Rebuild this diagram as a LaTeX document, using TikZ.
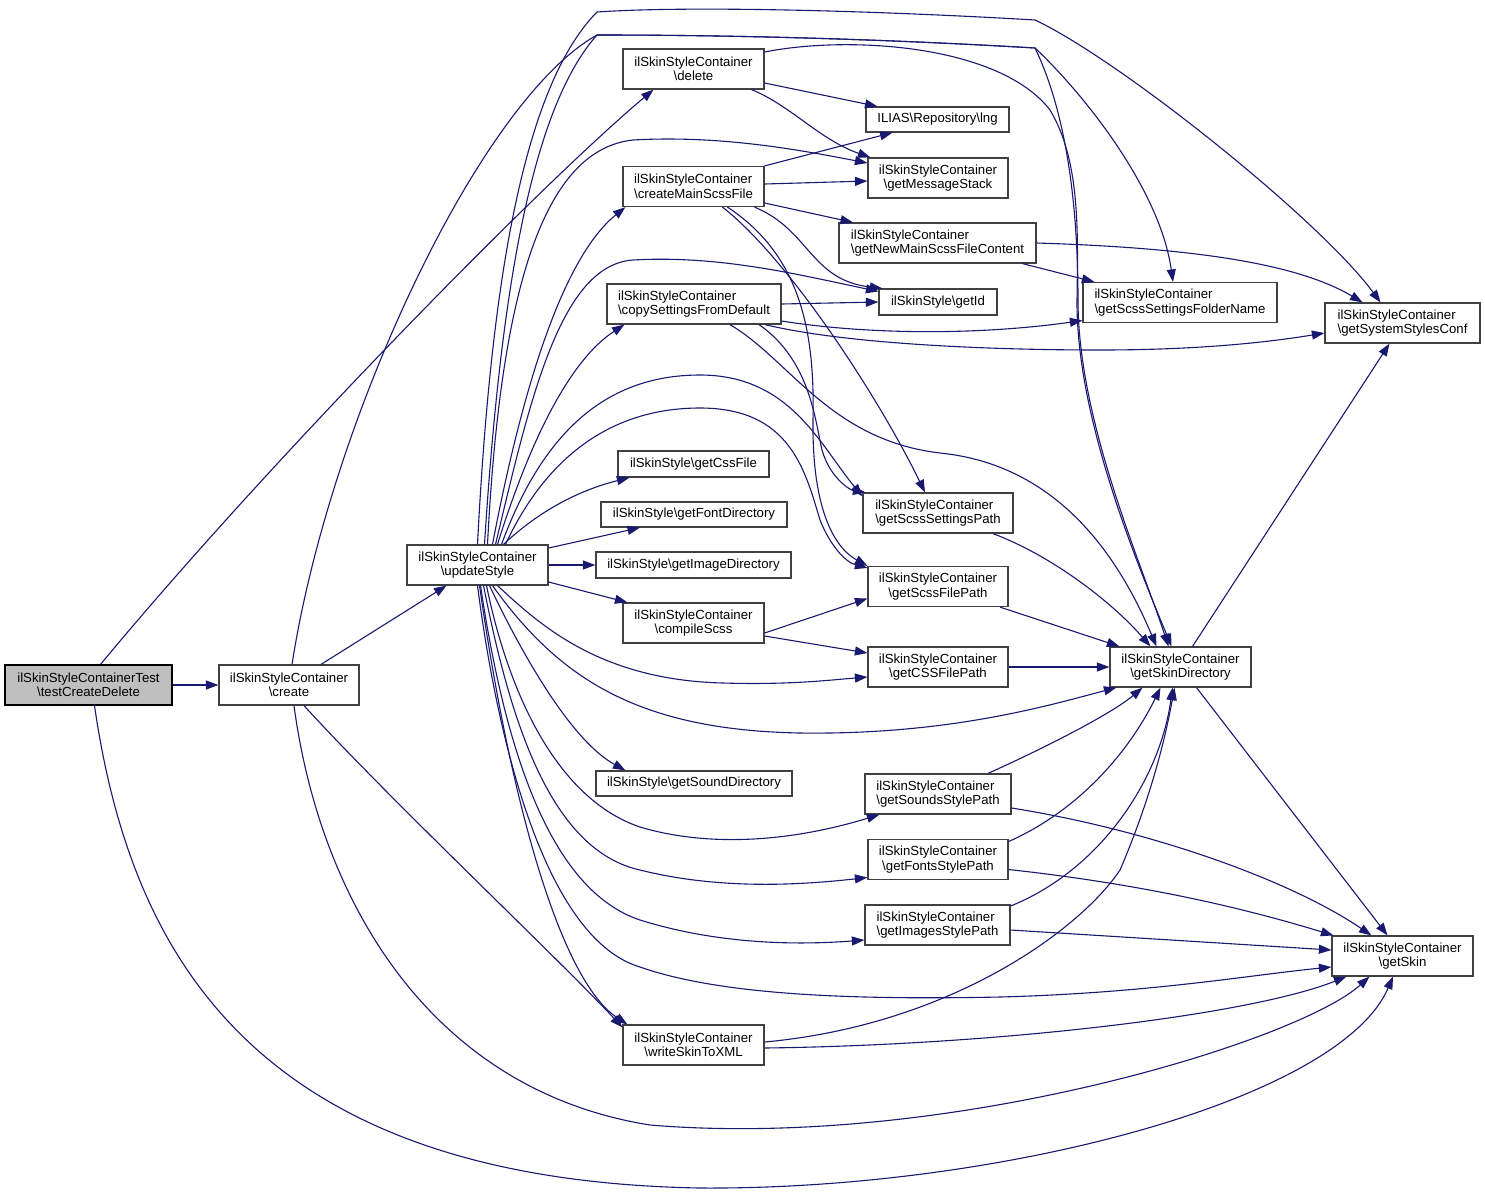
\documentclass[tikz,border=0pt]{standalone}
\usepackage{fontspec}
\setmainfont{Liberation Sans}
\usetikzlibrary{arrows.meta}
\definecolor{edgec}{RGB}{25,25,112}
\definecolor{nodegray}{RGB}{191,191,191}
\definecolor{borderc}{RGB}{64,64,64}
\newcommand{\BSL}{\textbackslash}
\begin{document}
\begin{tikzpicture}[x=1pt,y=-1pt,
  fn/.style={draw=borderc, line width=1.2pt, fill=white, inner sep=0pt, align=center,
    font=\fontsize{13.2}{14.5}\selectfont, minimum height=40},
  fs/.style={fn, minimum height=26},
  conn/.style={draw=edgec, line width=1.1pt, -{Triangle[length=12.5pt,width=9pt]}}]
\useasboundingbox (0,0) rectangle (1485,1195);
\fill[white] (0,0) rectangle (1485,1195);
% nodes
\node[fn, fill=nodegray, draw=black, minimum width=167] (T) at (88.5,685) {ilSkinStyleContainerTest\\\BSL testCreateDelete};
\node[fn, minimum width=140] (C) at (289,685) {ilSkinStyleContainer\\\BSL create};
\node[fn, minimum width=141] (U) at (477.5,565) {ilSkinStyleContainer\\\BSL updateStyle};
\node[fn, minimum width=141] (D) at (693.5,69) {ilSkinStyleContainer\\\BSL delete};
\node[fs, minimum width=143, minimum height=25] (Lng) at (937.5,119.5) {ILIAS\BSL Repository\BSL lng};
\node[fn, minimum width=140] (MS) at (938,178) {ilSkinStyleContainer\\\BSL getMessageStack};
\node[fn, minimum width=141, align=left] (CM) at (693.5,186.5) {ilSkinStyleContainer\\\BSL createMainScssFile};
\node[fn, minimum width=197, align=left] (NM) at (937.5,243) {ilSkinStyleContainer\\\BSL getNewMainScssFileContent};
\node[fs, minimum width=118] (GI) at (938,302) {ilSkinStyle\BSL getId};
\node[fn, minimum width=174, align=left] (CS) at (694,304) {ilSkinStyleContainer\\\BSL copySettingsFromDefault};
\node[fn, minimum width=194, align=left] (SFN) at (1180,302.5) {ilSkinStyleContainer\\\BSL getScssSettingsFolderName};
\node[fn, minimum width=155, align=left] (SSC) at (1402.5,323) {ilSkinStyleContainer\\\BSL getSystemStylesConf};
\node[fs, minimum width=151] (CF) at (693.5,464) {ilSkinStyle\BSL getCssFile};
\node[fs, minimum width=186, minimum height=25] (FD) at (694,514.5) {ilSkinStyle\BSL getFontDirectory};
\node[fs, minimum width=195] (ID) at (693.5,565) {ilSkinStyle\BSL getImageDirectory};
\node[fn, minimum width=141] (CSS) at (693.5,623) {ilSkinStyleContainer\\\BSL compileScss};
\node[fn, minimum width=150, align=left] (SSP) at (938,513) {ilSkinStyleContainer\\\BSL getScssSettingsPath};
\node[fn, minimum width=140] (SFP) at (938,586.5) {ilSkinStyleContainer\\\BSL getScssFilePath};
\node[fn, minimum width=140] (CFP) at (938,667) {ilSkinStyleContainer\\\BSL getCSSFilePath};
\node[fn, minimum width=141] (SD) at (1180.5,667) {ilSkinStyleContainer\\\BSL getSkinDirectory};
\node[fs, minimum width=196, minimum height=25] (SND) at (694,783.5) {ilSkinStyle\BSL getSoundDirectory};
\node[fn, minimum width=146, align=left] (SSTP) at (938,794) {ilSkinStyleContainer\\\BSL getSoundsStylePath};
\node[fn, minimum width=140] (FSP) at (938,859.5) {ilSkinStyleContainer\\\BSL getFontsStylePath};
\node[fn, minimum width=145, align=left] (ISP) at (937.5,925) {ilSkinStyleContainer\\\BSL getImagesStylePath};
\node[fn, minimum width=141] (WX) at (693.5,1045) {ilSkinStyleContainer\\\BSL writeSkinToXML};
\node[fn, minimum width=141] (GS) at (1402.5,956) {ilSkinStyleContainer\\\BSL getSkin};
% edges from testCreateDelete
\draw[conn] (T.east) -- (C.west);
\draw[conn] ([xshift=12]T.north) .. controls (270,460) and (540,185) .. ([xshift=-40]D.south);
\draw[conn] ([xshift=6]T.south) .. controls (130,950) and (250,1180) .. (700,1188)
  .. controls (1000,1190) and (1340,1100) .. ([xshift=-9.5]GS.south);
% edges from create
\draw[conn] ([xshift=32]C.north) -- ([xshift=-31]U.south);
\draw[conn] ([xshift=3]C.north) .. controls (330,420) and (480,100) .. (597,35)
  .. controls (750,35) and (900,40) .. (1035,48)
  .. controls (1065,110) and (1078,200) .. (1078,300)
  .. controls (1078,420) and (1140,560) .. ([xshift=-12]SD.north);
\draw[conn] ([xshift=15]C.south) .. controls (390,800) and (560,960) .. ([yshift=-3]WX.north west);
\draw[conn] ([xshift=5]C.south) .. controls (320,900) and (430,1090) .. (650,1125)
  .. controls (950,1150) and (1300,1040) .. ([xshift=38]GS.south west);
% edges from updateStyle
\draw[conn] (U.north) .. controls (490,300) and (520,90) .. (597,12)
  .. controls (700,5) and (900,12) .. (1035,20)
  .. controls (1120,60) and (1320,220) .. ([xshift=-22]SSC.north);
\draw[conn] ([xshift=7]U.north) .. controls (500,300) and (530,110) .. (597,35)
  .. controls (750,35) and (900,40) .. (1035,48)
  .. controls (1085,95) and (1160,190) .. ([xshift=-7]SFN.north);
\draw[conn] ([xshift=10]U.north) .. controls (500,300) and (540,150) .. (633,140)
  .. controls (720,135) and (800,150) .. ([yshift=15]MS.west);
\draw[conn] ([xshift=15]U.north) .. controls (520,400) and (560,260) .. ([xshift=3]CM.south west);
\draw[conn] ([xshift=18]U.north) .. controls (530,400) and (560,265) .. (633,260)
  .. controls (720,255) and (800,275) .. ([yshift=-3]GI.north west);
\draw[conn] ([xshift=20]U.north) .. controls (530,440) and (570,360) .. ([xshift=18]CS.south west);
\draw[conn] ([xshift=24]U.north) .. controls (540,440) and (600,375) .. (700,375)
  .. controls (790,375) and (820,445) .. ([yshift=-4]SSP.north west);
\draw[conn] ([xshift=28]U.north) .. controls (540,470) and (600,408) .. (700,408)
  .. controls (790,408) and (805,470) .. (820,520)
  .. controls (830,545) and (845,562) .. ([yshift=-2]SFP.north west);
\draw[conn] ([xshift=26]U.north) .. controls (540,510) and (580,490) .. ([xshift=12]CF.south west);
\draw[conn] ([yshift=17]U.east) -- ([xshift=-54]FD.south);
\draw[conn] (U.east) -- (ID.west);
\draw[conn] ([yshift=-17]U.east) -- ([xshift=5]CSS.north west);
\draw[conn] ([xshift=20]U.south) .. controls (540,625) and (600,680) .. (723,683)
  .. controls (790,685) and (830,680) .. ([yshift=-10]CFP.west);
\draw[conn] ([xshift=15]U.south) .. controls (560,680) and (640,730) .. (800,733)
  .. controls (950,735) and (1050,705) .. ([xshift=7]SD.south west);
\draw[conn] ([xshift=12]U.south) .. controls (520,650) and (570,740) .. ([xshift=30]SND.north west);
\draw[conn] ([xshift=9]U.south) .. controls (510,700) and (560,800) .. (640,827)
  .. controls (700,845) and (780,845) .. ([xshift=15]SSTP.south west);
\draw[conn] ([xshift=6]U.south) .. controls (510,720) and (550,850) .. (640,870)
  .. controls (720,890) and (800,885) .. ([yshift=-18]FSP.west);
\draw[conn] ([xshift=3]U.south) .. controls (505,750) and (550,890) .. (640,920)
  .. controls (720,945) and (800,945) .. ([yshift=-15]ISP.west);
\draw[conn] (U.south) .. controls (500,760) and (550,940) .. (640,967)
  .. controls (720,995) and (850,1000) .. (1000,997)
  .. controls (1150,993) and (1250,975) .. ([yshift=-11]GS.west);
\draw[conn] ([xshift=2]U.south) .. controls (510,800) and (560,980) .. ([xshift=5]WX.north west);
% edges from delete
\draw[conn] ([yshift=-14]D.east) -- ([xshift=-60]Lng.north);
\draw[conn] ([xshift=58]D.south) .. controls (790,105) and (820,140) .. ([xshift=3]MS.north west);
\draw[conn] ([yshift=17]D.east) .. controls (850,35) and (1000,45) .. (1050,110)
  .. controls (1080,160) and (1078,230) .. (1077,300)
  .. controls (1076,420) and (1140,570) .. ([xshift=-9]SD.north);
% edges from createMainScssFile
\draw[conn] (CM.north east) -- ([xshift=-45]Lng.south);
\draw[conn] ([yshift=2.5]CM.east) -- ([yshift=-3]MS.west);
\draw[conn] ([yshift=-16.5]CM.east) -- ([xshift=-84.5]NM.north);
\draw[conn] ([xshift=61]CM.south) .. controls (810,230) and (810,280) .. ([xshift=4]GI.north west);
\draw[conn] ([xshift=29]CM.south) .. controls (790,260) and (880,400) .. ([xshift=-13]SSP.north);
\draw[conn] ([xshift=34]CM.south) .. controls (800,255) and (815,330) .. (813,420)
  .. controls (812,500) and (830,545) .. (SFP.north west);
% edges from getNewMainScssFileContent
\draw[conn] ([xshift=85]NM.south) -- ([xshift=12]SFN.north west);
\draw[conn] (NM.east) .. controls (1200,248) and (1300,265) .. ([xshift=-40]SSC.north);
% edges from copySettingsFromDefault
\draw[conn] (CS.east) -- (GI.west);
\draw[conn] ([yshift=-17]CS.east) .. controls (870,335) and (980,335) .. ([yshift=-18]SFN.west);
\draw[conn] ([xshift=71]CS.south) .. controls (850,345) and (1000,350) .. (1100,350)
  .. controls (1200,350) and (1270,342) .. ([yshift=-10]SSC.west);
\draw[conn] ([xshift=65]CS.south) .. controls (810,360) and (815,420) .. (822,450)
  .. controls (830,478) and (850,490) .. ([xshift=3]SSP.north west);
\draw[conn] ([xshift=36]CS.south) .. controls (790,360) and (830,440) .. (940,453)
  .. controls (1060,465) and (1120,560) .. ([xshift=-24]SD.north);
% compileScss
\draw[conn] ([yshift=-10]CSS.east) -- ([yshift=-12]SFP.west);
\draw[conn] ([yshift=-13]CSS.east) -- ([yshift=14]CFP.west);
% to getSkinDirectory
\draw[conn] ([xshift=55]SSP.south) .. controls (1050,555) and (1110,600) .. ([xshift=-30]SD.north);
\draw[conn] ([xshift=62]SFP.south) -- ([xshift=10]SD.north west);
\draw[conn] (CFP.east) -- (SD.west);
\draw[conn] ([xshift=50]SSTP.north) .. controls (1040,750) and (1110,715) .. ([xshift=-38]SD.south);
\draw[conn] ([yshift=18]FSP.east) .. controls (1080,810) and (1130,750) .. ([xshift=-20]SD.south);
\draw[conn] ([yshift=19]ISP.east) .. controls (1100,870) and (1160,780) .. ([xshift=-8]SD.south);
\draw[conn] ([yshift=3]WX.east) .. controls (950,1025) and (1080,930) .. (1120,870)
  .. controls (1150,800) and (1165,740) .. ([xshift=-6]SD.south);
% to getSkin
\draw[conn] ([yshift=-14]SSTP.east) .. controls (1150,830) and (1290,880) .. ([xshift=40]GS.north west);
\draw[conn] ([yshift=-10]FSP.east) .. controls (1150,885) and (1250,910) .. ([xshift=2]GS.north west);
\draw[conn] ([yshift=-5]ISP.east) -- ([yshift=6]GS.west);
\draw[conn] ([yshift=-3]WX.east) .. controls (1000,1045) and (1250,1015) .. ([xshift=15]GS.south west);
% from getSkinDirectory
\draw[conn] ([xshift=12]SD.north) -- ([xshift=-13]SSC.south);
\draw[conn] ([xshift=16]SD.south) -- ([xshift=-15]GS.north);
\end{tikzpicture}
\end{document}
